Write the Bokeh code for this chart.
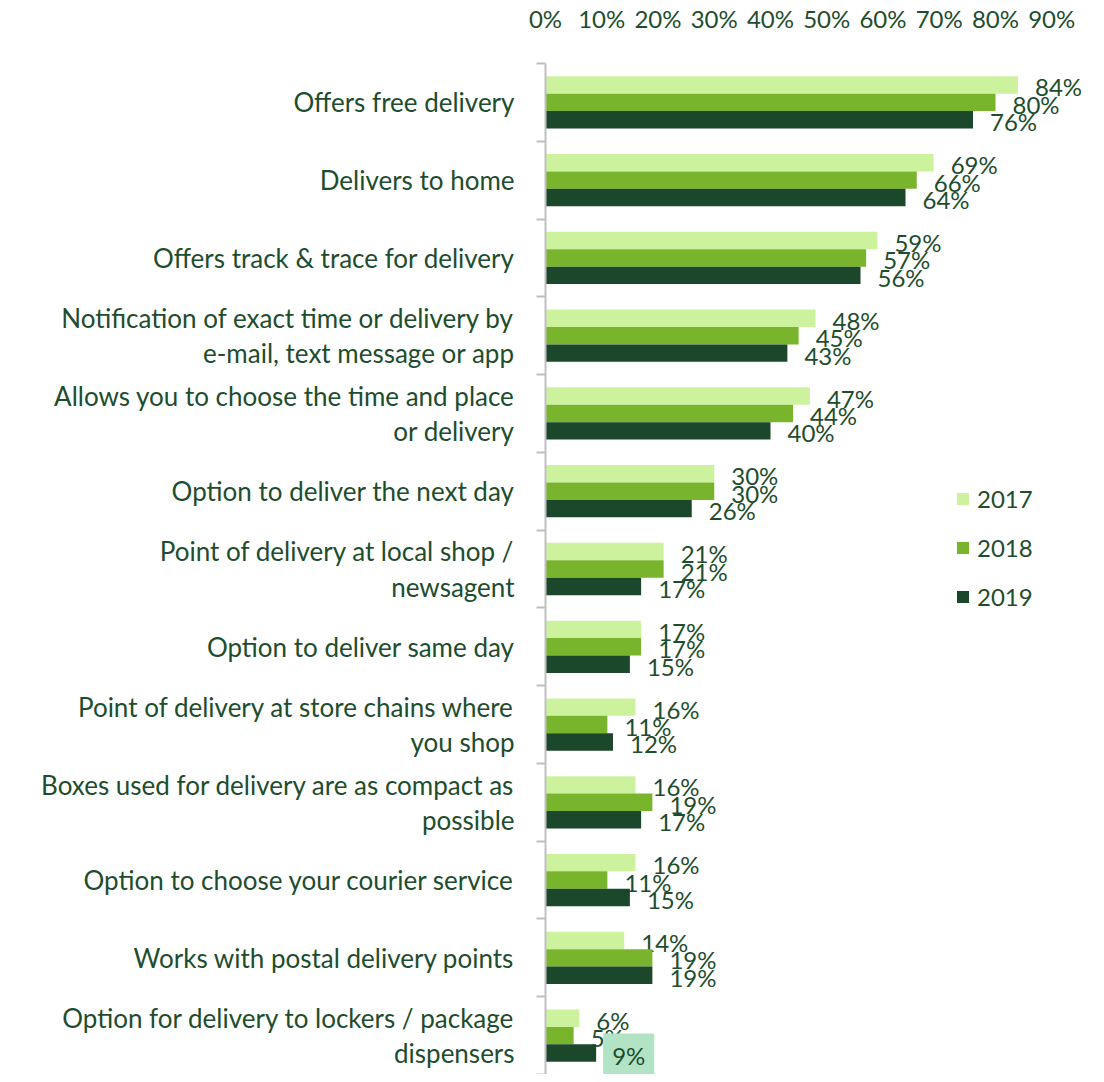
from bokeh.plotting import figure
from bokeh.models import (ColumnDataSource, Range1d, FixedTicker, CDSView, IndexFilter,
                          PrintfTickFormatter, Legend, LegendItem, Label)
from bokeh.transform import dodge
from bokeh.core.properties import value
from bokeh.embed import file_html
from bokeh.resources import INLINE

# ---------------- data ----------------
categories = [
    "Offers free delivery",
    "Delivers to home",
    "Offers track & trace for delivery",
    "Notification of exact time or delivery by\ne-mail, text message or app",
    "Allows you to choose the time and place\nor delivery",
    "Option to deliver the next day",
    "Point of delivery at local shop /\nnewsagent",
    "Option to deliver same day",
    "Point of delivery at store chains where\nyou shop",
    "Boxes used for delivery are as compact as\npossible",
    "Option to choose your courier service",
    "Works with postal delivery points",
    "Option for delivery to lockers / package\ndispensers",
]
years = ["2017", "2018", "2019"]
v2017 = [84, 69, 59, 48, 47, 30, 21, 17, 16, 16, 16, 14, 6]
v2018 = [80, 66, 57, 45, 44, 30, 21, 17, 11, 19, 11, 19, 5]
v2019 = [76, 64, 56, 43, 40, 26, 17, 15, 12, 17, 15, 19, 9]
x_ticks = [0, 10, 20, 30, 40, 50, 60, 70, 80, 90]

# ---------------- style ----------------
C17, C18, C19 = "#CCF29E", "#78B52C", "#1B472A"
TXT = "#1E4D2E"
GREY = "#BFBFBF"
HILITE = "#B3E3C5"
FONT = "Lato"
FS_NUM = "24px"
FS_CAT = "26px"
OFF = 0.224
BAR_H = 0.224
LABEL_GAP = 17

highlight_cat = categories[-1]  # highlighted 2019 value label
hi_idx = categories.index(highlight_cat)

n = len(categories)
# category slot centres, first category at the top
pos = [n - 1 - i + 0.5 for i in range(n)]

p = figure(width=1096, height=1074, y_range=Range1d(0, n),
           x_range=Range1d(0, 96), x_axis_location="above",
           output_backend="svg", toolbar_location=None,
           min_border_left=545, min_border_top=62, min_border_right=11, min_border_bottom=0)
p.outline_line_color = None
p.xgrid.visible = False
p.ygrid.visible = False
p.background_fill_color = "white"

src = ColumnDataSource(dict(pos=pos, v2017=v2017, v2018=v2018, v2019=v2019,
                            l2017=[f"{v}%" for v in v2017],
                            l2018=[f"{v}%" for v in v2018],
                            l2019=[f"{v}%" for v in v2019]))

renderers = []
for yr, col, off in [("2017", C17, OFF), ("2018", C18, 0.0), ("2019", C19, -OFF)]:
    r = p.hbar(y=dodge("pos", off), left=0, right="v" + yr, height=BAR_H,
               fill_color=col, line_color=None, source=src)
    renderers.append(r)
    idx = [i for i in range(n) if not (yr == "2019" and i == hi_idx)]
    p.text(x="v" + yr, y=dodge("pos", off), text="l" + yr,
           x_offset=LABEL_GAP, y_offset=2, text_baseline="middle", text_align="left",
           text_font=value(FONT), text_font_size=FS_NUM, text_color=TXT, source=src,
           view=CDSView(filter=IndexFilter(idx)))

# highlighted label (drawn with a background box)
hi_val = v2019[hi_idx]
p.add_layout(Label(x=hi_val, y=pos[hi_idx] - OFF, text=f"{hi_val}%",
                   x_offset=7, y_offset=-2, text_align="left", text_baseline="middle",
                   text_font=FONT, text_font_size=FS_NUM, text_color=TXT,
                   background_fill_color=HILITE, padding=(9, 7)))

# top axis
xa = p.xaxis[0]
xa.ticker = FixedTicker(ticks=x_ticks)
xa.formatter = PrintfTickFormatter(format="%d%%")
xa.axis_line_color = None
xa.major_tick_line_color = None
xa.minor_tick_line_color = None
xa.major_label_standoff = 25
xa.major_label_text_font = FONT
xa.major_label_text_font_size = FS_NUM
xa.major_label_text_color = TXT

# category axis: labels at slot centres, minor ticks at slot boundaries
ya = p.yaxis[0]
ya.ticker = FixedTicker(ticks=pos, minor_ticks=list(range(n + 1)))
ya.major_label_overrides = {pv: c for pv, c in zip(pos, categories)}
ya.axis_line_color = GREY
ya.axis_line_width = 2
ya.major_tick_line_color = None
ya.major_tick_in = 0
ya.major_tick_out = 0
ya.minor_tick_line_color = GREY
ya.minor_tick_line_width = 2
ya.minor_tick_in = 0
ya.minor_tick_out = 9
ya.major_label_standoff = 22
ya.major_label_text_font = FONT
ya.major_label_text_font_size = FS_CAT
ya.major_label_text_color = TXT
ya.major_label_text_line_height = 1.1
ya.major_label_text_align = "center"

legend = Legend(items=[LegendItem(label=y, renderers=[r]) for y, r in zip(years, renderers)],
                location=(410, 463), orientation="vertical", padding=0, margin=0, spacing=20,
                glyph_width=15, glyph_height=15, label_standoff=7,
                label_text_font=FONT, label_text_font_size=FS_NUM, label_text_color=TXT,
                border_line_color=None, background_fill_alpha=0)
p.add_layout(legend)

open("out.html", "w").write(file_html(p, INLINE))
